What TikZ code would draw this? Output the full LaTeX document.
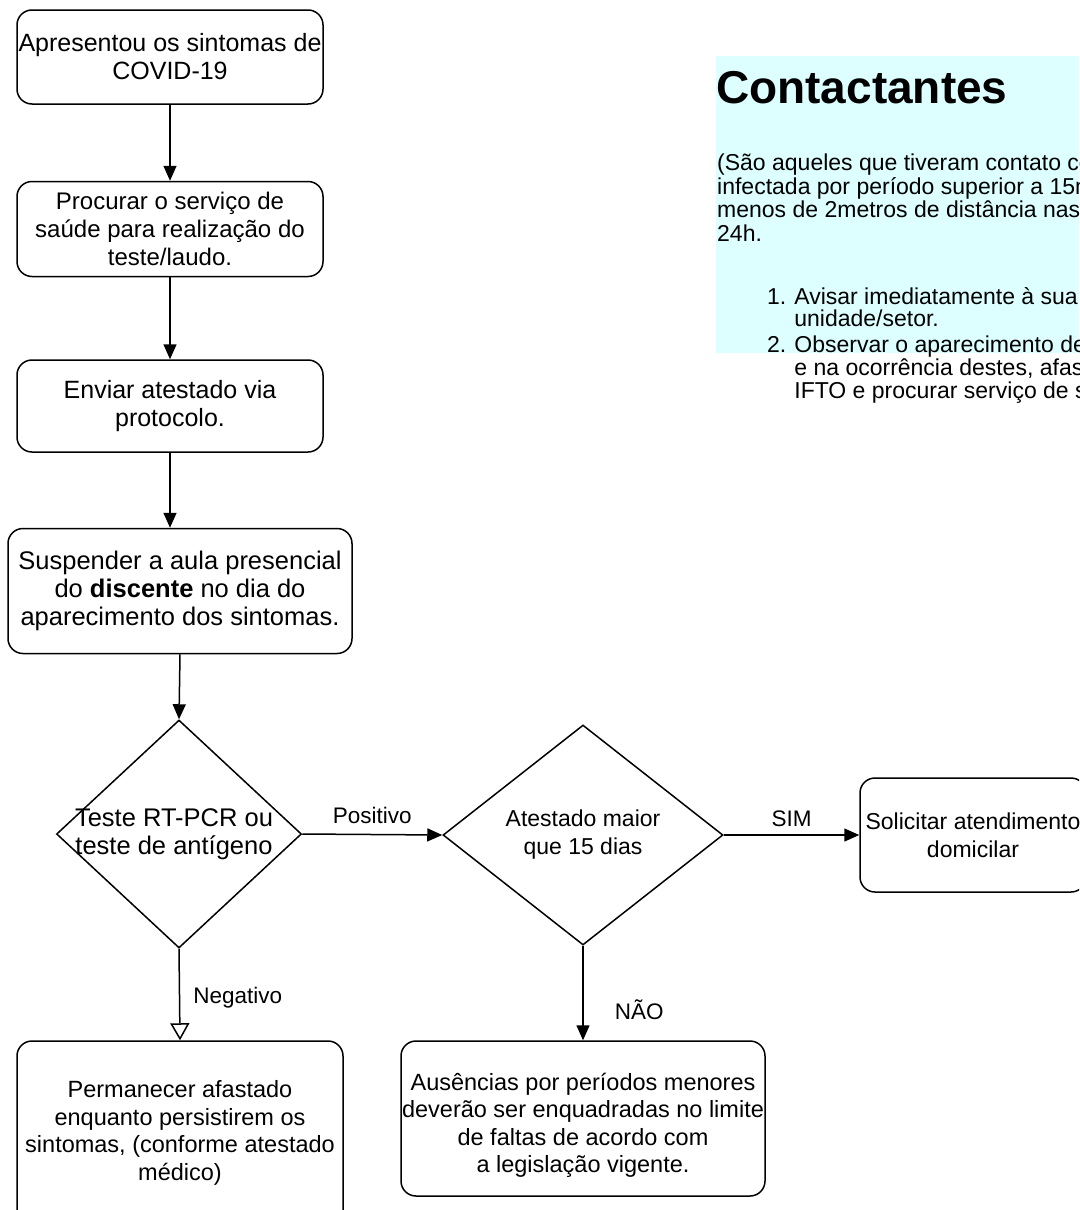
\documentclass[tikz,border=0pt]{standalone}
\usepackage{fontspec}
\setmainfont{Liberation Sans}
\usepackage{tikz}
\usetikzlibrary{arrows.meta,shapes.geometric}

\definecolor{panelcyan}{RGB}{221,255,255}

\tikzset{
    stepbox/.style={draw, line width=1.5pt, rounded corners=15pt, align=center,
        inner sep=0pt, font=\fontsize{24}{28}\selectfont},
    decision/.style={draw, diamond, line width=1.5pt, inner sep=0pt},
    decisiontext/.style={align=center, inner sep=0pt, font=\fontsize{24}{28}\selectfont},
    edgetext/.style={inner sep=0pt, font=\fontsize{22.5}{26}\selectfont},
    flow/.style={line width=1.5pt, -{Triangle[length=15pt,width=13pt]}},
    openflow/.style={line width=1.5pt, -{Triangle[open,length=17pt,width=19pt,fill=white]}}
}

\begin{document}
\begin{tikzpicture}[x=1pt,y=-1pt]
        \useasboundingbox (0,0) rectangle (1079,1210);
        \clip (0,0) rectangle (1079,1210);

        % the note on the right
        \fill[panelcyan] (716,56) rectangle (1095,353);
        \node[anchor=base west, inner sep=0pt, font=\bfseries\fontsize{46}{50}\selectfont] (title) at (716,103) {Contactantes};
        \node[anchor=north west, inner sep=0pt, align=left, font=\fontsize{23}{23.5}\selectfont] (who) at (717,154)
            {(São aqueles que tiveram contato com\\
             infectada por período superior a 15m\\
             menos de 2metros de distância nas\\
             24h.};
        \node[anchor=north west, inner sep=0pt, font=\fontsize{23}{20.5}\selectfont] (todo) at (767,287)
            {\begin{tabular}{@{}r@{\hspace{8pt}}l@{}}
             1. & Avisar imediatamente à sua\\
                & unidade/setor.\\[2.5pt]
             2. & Observar o aparecimento de\\
                & e na ocorrência destes, afastar\\
                & IFTO e procurar serviço de saúde
             \end{tabular}};

        % the steps
        \node[stepbox, font=\fontsize{25}{28}\selectfont, minimum width=306pt, minimum height=94pt] (symptoms) at (170,57)
            {Apresentou os sintomas de\\COVID-19};
        \node[stepbox, minimum width=306pt, minimum height=95pt] (service) at (170,229)
            {Procurar o serviço de\\saúde para realização do\\teste/laudo.};
        \node[stepbox, font=\fontsize{25}{28}\selectfont, minimum width=306pt, minimum height=92pt] (send) at (170,406)
            {Enviar atestado via\\protocolo.};
        \node[stepbox, font=\fontsize{25.5}{28}\selectfont, minimum width=344pt, minimum height=125pt] (suspend) at (180,591)
            {Suspender a aula presencial\\do \textbf{discente} no dia do\\aparecimento dos sintomas.};

        % the decisions
        \node[decision, minimum width=245pt, minimum height=228pt,
            label={[decisiontext, font=\fontsize{25.5}{28}\selectfont, xshift=-5pt]center:Teste RT-PCR ou\\teste de antígeno}] (test) at (179,834) {};
        \node[decision, minimum width=280pt, minimum height=220pt,
            label={[decisiontext, font=\fontsize{23}{28}\selectfont]center:Atestado maior\\que 15 dias}] (leave) at (583,835) {};

        % the outcomes
        \node[stepbox, font=\fontsize{23}{28}\selectfont, minimum width=226pt, minimum height=114pt] (visit) at (973,835)
            {Solicitar atendimento\\domicilar};
        \node[stepbox, minimum width=364pt, minimum height=155pt,
            label={[decisiontext, font=\fontsize{23.5}{27.5}\selectfont, yshift=-7pt]center:Ausências por períodos menores\\deverão ser enquadradas no limite\\de faltas de acordo com\\a legislação vigente.}] (minor) at (583,1118.5) {};
        \node[stepbox, font=\fontsize{23.5}{27.8}\selectfont, minimum width=326pt, minimum height=184pt] (stay) at (180,1133)
            {Permanecer afastado\\enquanto persistirem os\\sintomas, (conforme atestado\\médico)};

        % draw the arrows
        \draw[flow] (symptoms) -- (service);
        \draw[flow] (service) -- (send);
        \draw[flow] (send.south) -- (send.south |- suspend.north);
        \draw[flow] (suspend.south) -- (test.north);
        \draw[flow] (test.east) -- node[edgetext, above=10pt] {Positivo} (leave.west);
        \draw[flow] (leave.east) -- node[edgetext, above=8pt] {SIM} (visit.west);
        \draw[flow] (leave.south) -- node[edgetext, pos=0.68, anchor=west, xshift=31pt] {NÃO} (minor.north);
        \draw[openflow] (test.south) -- node[edgetext, pos=0.53, anchor=west, xshift=13pt] {Negativo} (stay.north);

    \end{tikzpicture}
\end{document}
